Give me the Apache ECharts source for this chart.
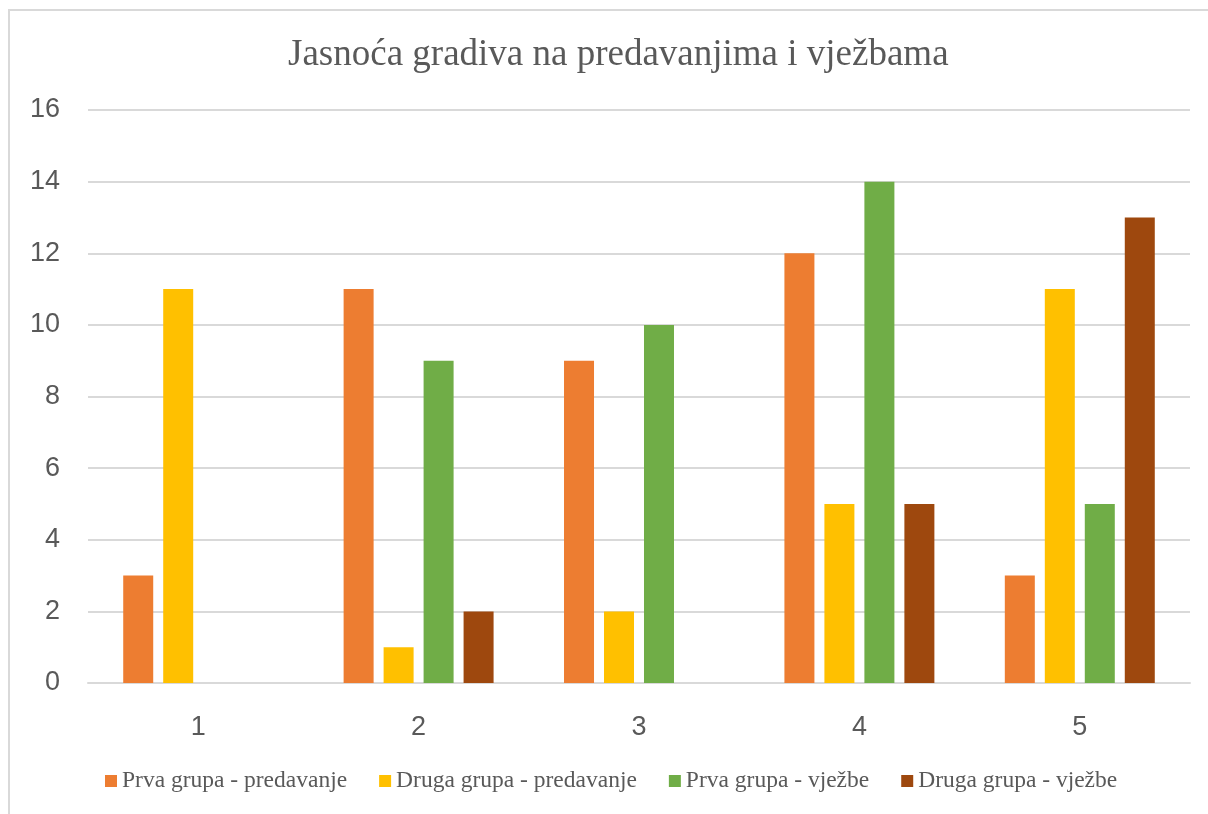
<!DOCTYPE html>
<html>
<head>
<meta charset="utf-8">
<script src="https://cdn.jsdelivr.net/npm/echarts@6/dist/echarts.min.js"></script>
<style>
  html, body { margin: 0; padding: 0; background: #fff; }
  #chart { width: 1208px; height: 814px; }
</style>
</head>
<body>
<div id="chart"></div>
<script>
const categories = ['1', '2', '3', '4', '5'];
const seriesNames = ['Prva grupa - predavanje', 'Druga grupa - predavanje', 'Prva grupa - vježbe', 'Druga grupa - vježbe'];
const prvaPredavanje = [3, 11, 9, 12, 3];
const drugaPredavanje = [11, 1, 2, 5, 11];
const prvaVjezbe = [null, 9, 10, 14, 5];
const drugaVjezbe = [null, 2, null, 5, 13];
const colors = ['#ED7D31', '#FFC000', '#70AD47', '#9E480E'];

const values = [prvaPredavanje, drugaPredavanje, prvaVjezbe, drugaVjezbe];
const textColor = '#595959';
const serif = '"Liberation Serif", "DejaVu Serif", serif';
const sans = '"Liberation Sans", "DejaVu Sans", sans-serif';

const chart = echarts.init(document.getElementById('chart'));
chart.setOption({
  animation: false,
  backgroundColor: '#fff',
  graphic: [{
    type: 'rect',
    shape: { x: 9, y: 10, width: 1400, height: 1000 },
    style: { fill: 'none', stroke: '#D9D9D9', lineWidth: 2 },
    silent: true
  }],
  title: {
    text: 'Jasnoća gradiva na predavanjima i vježbama',
    left: 283,
    top: 32,
    textStyle: { fontFamily: serif, fontSize: 37, fontWeight: 'normal', color: textColor }
  },
  legend: {
    bottom: 16,
    left: 100,
    itemWidth: 12,
    itemHeight: 12,
    itemGap: 32,
    icon: 'rect',
    textStyle: { fontFamily: serif, fontSize: 23.5, color: textColor },
    data: seriesNames
  },
  grid: { left: 88, right: 18, top: 110, bottom: 131 },
  xAxis: {
    type: 'category',
    data: categories,
    axisLine: { lineStyle: { color: '#D9D9D9', width: 2 } },
    axisTick: { show: false },
    axisLabel: { fontFamily: sans, fontSize: 27, color: textColor, margin: 31 }
  },
  yAxis: {
    type: 'value',
    min: 0,
    max: 16,
    interval: 2,
    axisLine: { show: false },
    axisTick: { show: false },
    axisLabel: { fontFamily: sans, fontSize: 27, color: textColor, margin: 28 },
    splitLine: { lineStyle: { color: '#D9D9D9', width: 2 } }
  },
  series: values.map((v, i) => ({
    name: seriesNames[i],
    type: 'bar',
    data: v,
    barWidth: 30,
    barGap: '33.3%',
    itemStyle: { color: colors[i] }
  }))
});
</script>
</body>
</html>
